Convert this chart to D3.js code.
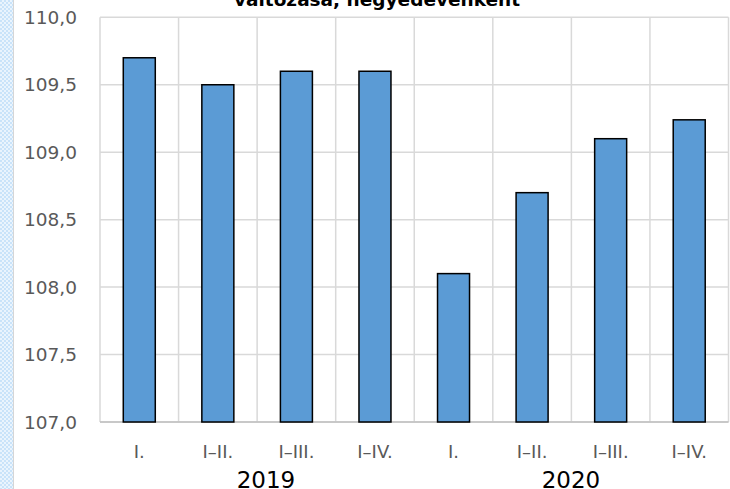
<!DOCTYPE html>
<html>
<head>
<meta charset="utf-8">
<script src="https://cdn.jsdelivr.net/npm/d3@7"></script>
<style>
  body { margin: 0; background: #fff; }
  svg { display: block; }
</style>
</head>
<body>
<script>
var categories = ["I.", "I–II.", "I–III.", "I–IV.", "I.", "I–II.", "I–III.", "I–IV."];
var years = ["2019", "2020"];
var values = [109.7, 109.5, 109.6, 109.6, 108.1, 108.7, 109.1, 109.24];
var yTicks = [107.0, 107.5, 108.0, 108.5, 109.0, 109.5, 110.0];
var title = "változása, negyedévenként";

var width = 730,
    height = 489,
    margin = {top: 17.3, right: 1.5, bottom: 67, left: 100};

var svg = d3.select("body").append("svg")
    .attr("width", width)
    .attr("height", height);

// checkered strip on the left edge
var defs = svg.append("defs");
var pat = defs.append("pattern")
    .attr("id", "checks")
    .attr("width", 4).attr("height", 4)
    .attr("patternUnits", "userSpaceOnUse");
pat.append("rect").attr("width", 4).attr("height", 4).attr("fill", "#eaf4fd");
pat.append("rect").attr("width", 2).attr("height", 2).attr("fill", "#c9e3f9");
pat.append("rect").attr("x", 2).attr("y", 2).attr("width", 2).attr("height", 2).attr("fill", "#c9e3f9");

svg.append("rect")
    .attr("width", 13).attr("height", height)
    .attr("fill", "url(#checks)");
svg.append("line")
    .attr("x1", 13.5).attr("x2", 13.5)
    .attr("y1", 0).attr("y2", height)
    .attr("stroke", "#d6d6d6");

var x = d3.scaleBand()
    .domain(d3.range(categories.length))
    .range([margin.left, width - margin.right])
    .paddingInner(0)
    .paddingOuter(0);

var y = d3.scaleLinear()
    .domain([107, 110])
    .range([height - margin.bottom, margin.top]);

var grid = "#d9d9d9";

// horizontal gridlines
svg.append("g").selectAll("line")
    .data(yTicks)
    .enter().append("line")
    .attr("x1", margin.left).attr("x2", width - margin.right)
    .attr("y1", function(d) { return y(d); })
    .attr("y2", function(d) { return y(d); })
    .attr("stroke", grid)
    .attr("stroke-width", 1.5);

// vertical gridlines at category boundaries
svg.append("g").selectAll("line")
    .data(d3.range(categories.length + 1))
    .enter().append("line")
    .attr("x1", function(i) { return margin.left + i * x.bandwidth(); })
    .attr("x2", function(i) { return margin.left + i * x.bandwidth(); })
    .attr("y1", y(110)).attr("y2", y(107))
    .attr("stroke", grid)
    .attr("stroke-width", 1.5);

// baseline
svg.append("line")
    .attr("x1", margin.left).attr("x2", width - margin.right)
    .attr("y1", y(107)).attr("y2", y(107))
    .attr("stroke", "#bfbfbf")
    .attr("stroke-width", 1.5);

var barWidth = 32;
svg.append("g").selectAll("rect")
    .data(values)
    .enter().append("rect")
    .attr("x", function(d, i) { return x(i) + x.bandwidth() / 2 - barWidth / 2; })
    .attr("y", function(d) { return y(d); })
    .attr("width", barWidth)
    .attr("height", function(d) { return y(107) - y(d); })
    .attr("fill", "#5b9bd5")
    .attr("stroke", "#000")
    .attr("stroke-width", 1.5);

// y axis labels
svg.append("g").selectAll("text")
    .data(yTicks)
    .enter().append("text")
    .attr("x", 77)
    .attr("y", function(d) { return y(d); })
    .attr("dy", "0.36em")
    .attr("text-anchor", "end")
    .attr("font-family", "DejaVu Sans")
    .attr("font-size", 18.5)
    .attr("fill", "#595959")
    .text(function(d) { return d3.format(".1f")(d).replace(".", ","); });

// category labels
svg.append("g").selectAll("text")
    .data(categories)
    .enter().append("text")
    .attr("x", function(d, i) { return x(i) + x.bandwidth() / 2; })
    .attr("y", 458)
    .attr("text-anchor", "middle")
    .attr("font-family", "DejaVu Sans")
    .attr("font-size", 18)
    .attr("fill", "#595959")
    .text(function(d) { return d; });

// year labels (clipped by the bottom edge, as in the original)
var yearX = [266, 571];
svg.append("g").selectAll("text")
    .data(years)
    .enter().append("text")
    .attr("x", function(d, i) { return yearX[i]; })
    .attr("y", 488)
    .attr("text-anchor", "middle")
    .attr("font-family", "DejaVu Sans")
    .attr("font-size", 23)
    .attr("fill", "#000")
    .text(function(d) { return d; });

// title (only the lower line is visible)
svg.append("text")
    .attr("x", 377)
    .attr("y", 6)
    .attr("text-anchor", "middle")
    .attr("font-family", "DejaVu Sans")
    .attr("font-weight", "bold")
    .attr("font-size", 18.5)
    .attr("fill", "#000")
    .text(title);
</script>
</body>
</html>
